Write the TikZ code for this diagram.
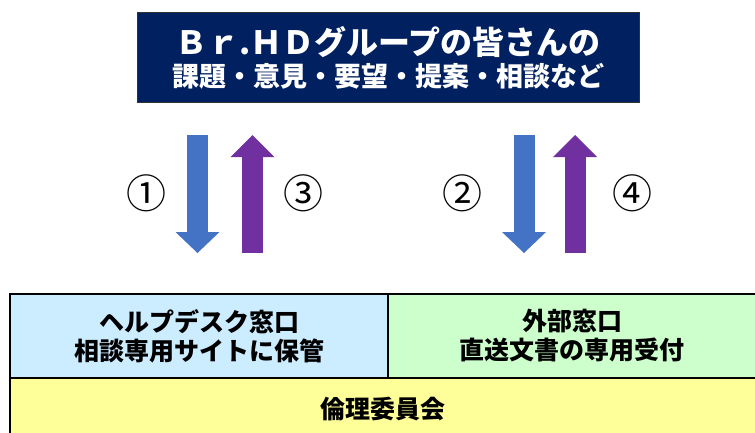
\documentclass[tikz,border=0pt]{standalone}
\usepackage{fontspec}
\setmainfont{Noto Sans CJK JP}
\usetikzlibrary{positioning,arrows.meta}
\definecolor{navy}{HTML}{002060}
\definecolor{arrowblue}{HTML}{4472C4}
\definecolor{arrowpurple}{HTML}{7030A0}
\definecolor{deskblue}{HTML}{CCECFF}
\definecolor{extgreen}{HTML}{CCFFCC}
\definecolor{boardyellow}{HTML}{FFFF99}
\tikzset{
  topbox/.style={rectangle, draw=black!80, line width=1pt, fill=navy, minimum width=502pt, minimum height=90pt, inner sep=0pt},
  toptext/.style={text=white, inner sep=0pt, font=\bfseries},
  panel/.style={rectangle, draw=black, line width=1.3pt, inner sep=0pt, align=center, font=\bfseries\fontsize{25}{29}\selectfont},
  downarrow/.style={draw=arrowblue, line width=21pt, -{Triangle[length=21pt, width=44pt, line width=0pt]}},
  uparrow/.style={draw=arrowpurple, line width=21pt, -{Triangle[length=22pt, width=44pt, line width=0pt]}},
  numlabel/.style={inner sep=0pt, font=\fontsize{40}{40}\selectfont},
}

\begin{document}
\begin{tikzpicture}[x=1pt, y=-1pt]
  \useasboundingbox (0,0) rectangle (755,432);
  % top: everyone in the group
  \node[topbox] (group) at (388,57.5) {};
  \node[toptext, font=\bfseries\fontsize{32}{34}\selectfont] (title) at (388,42) {Ｂｒ.ＨＤグループの皆さんの};
  \node[toptext, font=\bfseries\fontsize{27}{30}\selectfont] (topics) at (388,76) {課題・意見・要望・提案・相談など};

  % bottom: the two desks and the board
  \node[panel, fill=deskblue, minimum width=378pt, minimum height=84pt] (desk) at (199,336) {ヘルプデスク窓口\\相談専用サイトに保管};
  \node[panel, fill=extgreen, minimum width=368pt, minimum height=84pt] (extdesk) at (572,336) {外部窓口\\直送文書の専用受付};
  \node[panel, fill=boardyellow, minimum width=746pt, minimum height=62pt, line width=2pt] (board) at (383,409) {倫理委員会};

  % arrows
  \coordinate (a1s) at (197.5,135);
  \coordinate (a1e) at (197.5,253);
  \coordinate (a3s) at (252.5,253);
  \coordinate (a3e) at (252.5,135);
  \coordinate (a2s) at (524,135);
  \coordinate (a2e) at (524,253);
  \coordinate (a4s) at (575,253);
  \coordinate (a4e) at (575,135);
  \draw[downarrow] (a1s) -- (a1e);
  \draw[uparrow] (a3s) -- (a3e);
  \draw[downarrow] (a2s) -- (a2e);
  \draw[uparrow] (a4s) -- (a4e);

  \node[numlabel] (n1) at (146,193) {①};
  \node[numlabel] (n3) at (303.5,193) {③};
  \node[numlabel] (n2) at (462,193) {②};
  \node[numlabel] (n4) at (632,193) {④};
\end{tikzpicture}
\end{document}
